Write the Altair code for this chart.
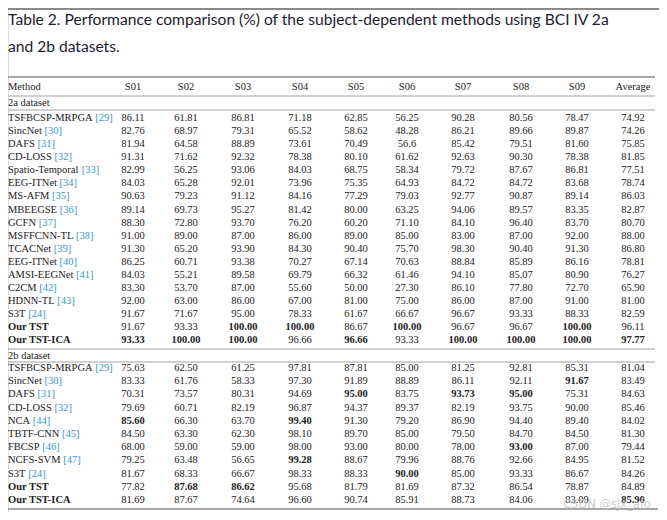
import altair as alt
import pandas as pd

# ---------------- data ----------------
title_lines = [
    "Table 2. Performance comparison (%) of the subject-dependent methods using BCI IV 2a",
    "and 2b datasets.",
]
columns = ["S01", "S02", "S03", "S04", "S05", "S06", "S07", "S08", "S09", "Average"]

methods_2a = ["TSFBCSP-MRPGA", "SincNet", "DAFS", "CD-LOSS", "Spatio-Temporal", "EEG-ITNet",
              "MS-AFM", "MBEEGSE", "GCFN", "MSFFCNN-TL", "TCACNet", "EEG-ITNet", "AMSI-EEGNet",
              "C2CM", "HDNN-TL", "S3T", "Our TST", "Our TST-ICA"]
refs_2a = ["29", "30", "31", "32", "33", "34", "35", "36", "37", "38", "39", "40", "41",
           "42", "43", "24", "", ""]
values_2a = [
    ["86.11", "61.81", "86.81", "71.18", "62.85", "56.25", "90.28", "80.56", "78.47", "74.92"],
    ["82.76", "68.97", "79.31", "65.52", "58.62", "48.28", "86.21", "89.66", "89.87", "74.26"],
    ["81.94", "64.58", "88.89", "73.61", "70.49", "56.6", "85.42", "79.51", "81.60", "75.85"],
    ["91.31", "71.62", "92.32", "78.38", "80.10", "61.62", "92.63", "90.30", "78.38", "81.85"],
    ["82.99", "56.25", "93.06", "84.03", "68.75", "58.34", "79.72", "87.67", "86.81", "77.51"],
    ["84.03", "65.28", "92.01", "73.96", "75.35", "64.93", "84.72", "84.72", "83.68", "78.74"],
    ["90.63", "79.23", "91.12", "84.16", "77.29", "79.03", "92.77", "90.87", "89.14", "86.03"],
    ["89.14", "69.73", "95.27", "81.42", "80.00", "63.25", "94.06", "89.57", "83.35", "82.87"],
    ["88.30", "72.80", "93.70", "76.20", "60.20", "71.10", "84.10", "96.40", "83.70", "80.70"],
    ["91.00", "89.00", "87.00", "86.00", "89.00", "85.00", "83.00", "87.00", "92.00", "88.00"],
    ["91.30", "65.20", "93.90", "84.30", "90.40", "75.70", "98.30", "90.40", "91.30", "86.80"],
    ["86.25", "60.71", "93.38", "70.27", "67.14", "70.63", "88.84", "85.89", "86.16", "78.81"],
    ["84.03", "55.21", "89.58", "69.79", "66.32", "61.46", "94.10", "85.07", "80.90", "76.27"],
    ["83.30", "53.70", "87.00", "55.60", "50.00", "27.30", "86.10", "77.80", "72.70", "65.90"],
    ["92.00", "63.00", "86.00", "67.00", "81.00", "75.00", "86.00", "87.00", "91.00", "81.00"],
    ["91.67", "71.67", "95.00", "78.33", "61.67", "66.67", "96.67", "93.33", "88.33", "82.59"],
    ["91.67", "93.33", "100.00", "100.00", "86.67", "100.00", "96.67", "96.67", "100.00", "96.11"],
    ["93.33", "100.00", "100.00", "96.66", "96.66", "93.33", "100.00", "100.00", "100.00", "97.77"],
]
# bold cells: (row index, column index)
bold_2a = [(16, 2), (16, 3), (16, 5), (16, 8),
           (17, 0), (17, 1), (17, 2), (17, 4), (17, 6), (17, 7), (17, 8), (17, 9)]

methods_2b = ["TSFBCSP-MRPGA", "SincNet", "DAFS", "CD-LOSS", "NCA", "TBTF-CNN", "FBCSP",
              "NCFS-SVM", "S3T", "Our TST", "Our TST-ICA"]
refs_2b = ["29", "30", "31", "32", "44", "45", "46", "47", "24", "", ""]
values_2b = [
    ["75.63", "62.50", "61.25", "97.81", "87.81", "85.00", "81.25", "92.81", "85.31", "81.04"],
    ["83.33", "61.76", "58.33", "97.30", "91.89", "88.89", "86.11", "92.11", "91.67", "83.49"],
    ["70.31", "73.57", "80.31", "94.69", "95.00", "83.75", "93.73", "95.00", "75.31", "84.63"],
    ["79.69", "60.71", "82.19", "96.87", "94.37", "89.37", "82.19", "93.75", "90.00", "85.46"],
    ["85.60", "66.30", "63.70", "99.40", "91.30", "79.20", "86.90", "94.40", "89.40", "84.02"],
    ["84.50", "63.30", "62.30", "98.10", "89.70", "85.00", "79.50", "84.70", "84.50", "81.30"],
    ["68.00", "59.00", "59.00", "98.00", "93.00", "80.00", "78.00", "93.00", "87.00", "79.44"],
    ["79.25", "63.48", "56.65", "99.28", "88.67", "79.96", "88.76", "92.66", "84.95", "81.52"],
    ["81.67", "68.33", "66.67", "98.33", "88.33", "90.00", "85.00", "93.33", "86.67", "84.26"],
    ["77.82", "87.68", "86.62", "95.68", "81.79", "81.69", "87.32", "86.54", "78.87", "84.89"],
    ["81.69", "87.67", "74.64", "96.60", "90.74", "85.91", "88.73", "84.06", "83.09", "85.90"],
]
bold_2b = [(1, 8), (2, 4), (2, 6), (2, 7), (4, 0), (4, 3), (6, 7), (7, 3), (8, 5),
           (9, 1), (9, 2), (10, 9)]
bold_methods = ["Our TST", "Our TST-ICA"]
watermark = "CSDN @sjx_afo"

# ---------------- layout (reference pixel space) ----------------
col_x = [133, 186, 243, 300, 356, 407, 463, 521, 577, 633]
left_x = 8
header_y = 87
sec2a_y, sec2b_y = 103, 356
rows2a_y0, rows2a_dy = 118, 13.08
rows2b_y0, rows2b_dy = 368, 13.2
FS = 10.5
SERIF = "Liberation Serif"
INK = "#222222"
REF = "#3a96c8"

# Times metrics (per 1000 em) for positioning the reference numbers
W = dict(zip("ABCDEFGHIJKLMNOPQRSTUVWXYZ",
             [722, 667, 667, 722, 611, 556, 722, 722, 333, 389, 722, 611, 889, 722, 722, 556,
              722, 667, 556, 611, 722, 722, 944, 722, 722, 611]))
W.update(dict(zip("abcdefghijklmnopqrstuvwxyz",
                  [444, 500, 444, 500, 444, 333, 500, 500, 278, 278, 500, 278, 778, 500, 500,
                   500, 500, 333, 389, 278, 500, 500, 722, 500, 500, 444])))
W.update({c: 500 for c in "0123456789"})
W.update({" ": 250, "-": 333, "[": 333, "]": 333, ".": 250})


def twidth(s):
    return sum(W.get(c, 500) for c in s) * FS / 1000.0


recs = []
refrecs = []


def add_section(methods, refs, values, bolds, y0, dy):
    for i, (m, r, vals) in enumerate(zip(methods, refs, values)):
        y = y0 + dy * i
        recs.append(dict(x=left_x, y=y, t=m, w="bold" if m in bold_methods else "normal",
                         a="left"))
        if r:
            refrecs.append(dict(x=left_x + twidth(m + " "), y=y, t="[" + r + "]"))
        for j, v in enumerate(vals):
            recs.append(dict(x=col_x[j], y=y, t=v,
                             w="bold" if (i, j) in bolds else "normal", a="center"))


recs.append(dict(x=left_x, y=header_y, t="Method", w="normal", a="left"))
for j, c in enumerate(columns):
    recs.append(dict(x=col_x[j], y=header_y, t=c, w="normal", a="center"))
recs.append(dict(x=left_x, y=sec2a_y, t="2a dataset", w="normal", a="left"))
recs.append(dict(x=left_x, y=sec2b_y, t="2b dataset", w="normal", a="left"))
add_section(methods_2a, refs_2a, values_2a, bold_2a, rows2a_y0, rows2a_dy)
add_section(methods_2b, refs_2b, values_2b, bold_2b, rows2b_y0, rows2b_dy)

df = pd.DataFrame(recs)
dref = pd.DataFrame(refrecs)

xs = alt.Scale(domain=[8, 659], range=[0, 651], zero=False, nice=False)
ys = alt.Scale(domain=[8, 512], range=[0, 504], zero=False, nice=False)
X = lambda: alt.X("x:Q", scale=xs, axis=None)
Y = lambda: alt.Y("y:Q", scale=ys, axis=None)

base_text = alt.Chart(df)
layers = []
for a in ["left", "center"]:
    for w in ["normal", "bold"]:
        layers.append(
            base_text.transform_filter(
                (alt.datum.a == a) & (alt.datum.w == w)
            ).mark_text(font=SERIF, fontSize=FS, fontWeight=w, align=a, baseline="middle",
                        color=INK).encode(x=X(), y=Y(), text="t:N")
        )

refs_layer = alt.Chart(dref).mark_text(font=SERIF, fontSize=FS, align="left",
                                       baseline="middle", color=REF).encode(
    x=X(), y=Y(), text="t:N")

title_df = pd.DataFrame({"x": [8, 8], "y": [20, 47], "t": title_lines})
title_layer = alt.Chart(title_df).mark_text(
    font="Lato", fontSize=15.6, align="left",
    baseline="middle", color="#1b1b30").encode(x=X(), y=Y(), text="t:N")

lines_df = pd.DataFrame({
    "x": [8, 6, 6, 6, 6, 6, 3],
    "x2": [659, 655, 655, 655, 655, 655, 658],
    "y": [9, 77, 96, 110, 349, 362, 509],
    "sw": [2.2, 1.6, 0.8, 0.8, 0.8, 0.8, 1.6],
})
rules = alt.Chart(lines_df).mark_rule(color="#8a8a8a").encode(
    x=X(), x2="x2:Q", y=Y(),
    strokeWidth=alt.StrokeWidth("sw:Q", scale=None, legend=None))

wm_df = pd.DataFrame({"x": [607], "y": [505], "t": [watermark]})
wm = alt.Chart(wm_df).mark_text(font="DejaVu Sans", fontSize=11.5, align="center",
                                baseline="middle", color="#c4c4c4", opacity=0.8).encode(
    x=X(), y=Y(), text="t:N")

chart = alt.layer(rules, title_layer, *layers, refs_layer, wm).properties(
    width=651, height=504, padding=0, autosize="none"
).configure_view(stroke=None).configure(background="white")

chart.save("out.html", embed_options={"renderer": "svg", "actions": False})
